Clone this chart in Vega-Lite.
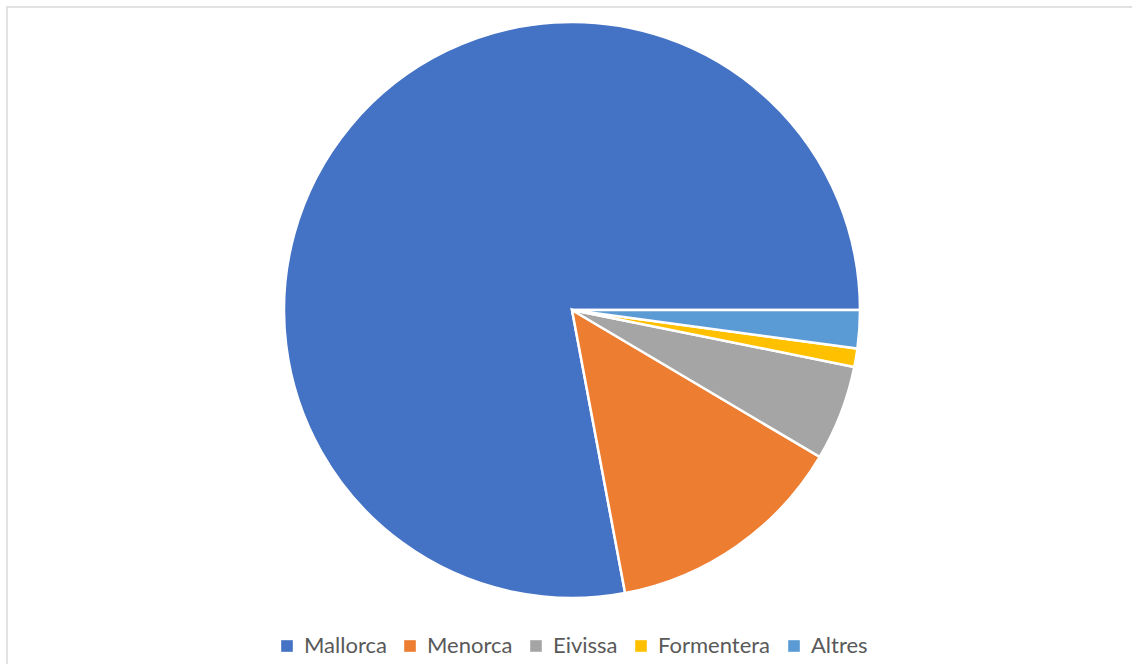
{
  "$schema": "https://vega.github.io/schema/vega-lite/v6.json",
  "width": 1125,
  "height": 657,
  "autosize": {"type": "none"},
  "padding": {"left": 7, "top": 7, "right": 0, "bottom": 0},
  "background": "white",
  "config": {
    "view": {"stroke": null},
    "font": "Lato"
  },
  "layer": [
    {
      "data": {"values": [{"marc": "vora"}]},
      "mark": {"type": "rect", "fill": null, "stroke": "#d9d9d9", "strokeWidth": 1.5, "strokeDash": [1126, 1781, 660, 10]},
      "encoding": {}
    },
    {
      "data": {
        "values": [
          {"illa": "Mallorca", "n": 1, "valor": 77.96},
          {"illa": "Menorca", "n": 2, "valor": 13.53},
          {"illa": "Eivissa", "n": 3, "valor": 5.35},
          {"illa": "Formentera", "n": 4, "valor": 1.03},
          {"illa": "Altres", "n": 5, "valor": 2.14}
        ]
      },
      "mark": {"type": "arc", "radius": 288, "stroke": "white", "strokeWidth": 2.5, "xOffset": 2.5, "yOffset": -25.5},
      "encoding": {
        "theta": {"field": "valor", "type": "quantitative", "stack": true, "scale": {"range": [1.5707963, 7.8539816]}},
        "order": {"field": "n", "sort": "descending"},
        "color": {
          "field": "illa",
          "type": "nominal",
          "sort": ["Mallorca", "Menorca", "Eivissa", "Formentera", "Altres"],
          "scale": {
            "domain": ["Mallorca", "Menorca", "Eivissa", "Formentera", "Altres"],
            "range": ["#4472C4", "#ED7D31", "#A5A5A5", "#FFC000", "#5B9BD5"]
          },
          "legend": {
            "orient": "none",
            "direction": "horizontal",
            "legendX": 269,
            "legendY": 628,
            "title": null,
            "symbolType": "square",
            "symbolSize": 135,
            "symbolStrokeWidth": 0,
            "labelFont": "Lato",
            "labelFontSize": 22,
            "labelColor": "#595959",
            "labelOffset": 6,
            "columnPadding": 12,
            "labelLimit": 300
          }
        },
        "tooltip": [{"field": "illa"}, {"field": "valor"}]
      }
    }
  ]
}
